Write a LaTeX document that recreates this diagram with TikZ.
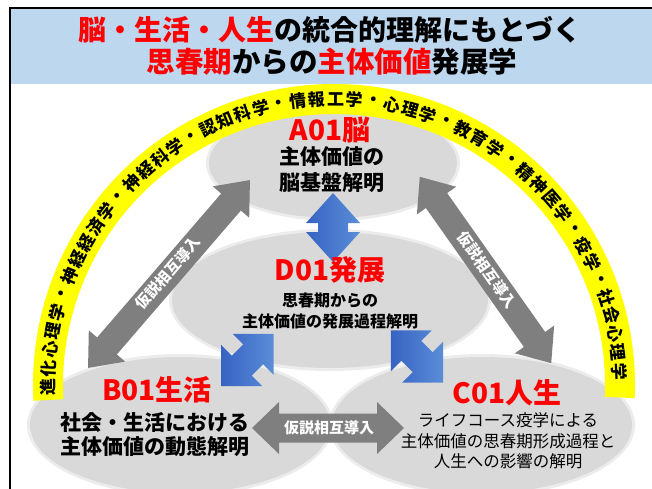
\documentclass[tikz,border=0pt]{standalone}
\usepackage{fontspec}
\setmainfont{Noto Sans CJK JP}
\usetikzlibrary{shapes.geometric}
\definecolor{titleblue}{HTML}{BDD7EE}
\definecolor{ellgray}{HTML}{D9D9D9}
\definecolor{arrgray}{HTML}{7F7F7F}
\definecolor{bluedark}{HTML}{3763C2}
\definecolor{bluelight}{HTML}{5B8DD8}
\definecolor{hlyellow}{HTML}{FFFF00}
\definecolor{labred}{HTML}{FF0000}
\newcommand\setfs[2]{\fontsize{#1}{#2}\selectfont}
\newcommand\dblarrow[8]{\begin{scope}[shift={(#1,#2)}, rotate=#3]
 \path[#8] (-#4,0) -- (-#4+#7,#6) -- (-#4+#7,#5) -- (#4-#7,#5) -- (#4-#7,#6) -- (#4,0)
   -- (#4-#7,-#6) -- (#4-#7,-#5) -- (-#4+#7,-#5) -- (-#4+#7,-#6) -- cycle;
\end{scope}}
\tikzset{
  ell/.style={ellipse, fill=ellgray, draw=none, inner sep=0pt},
  rim/.style={fill=ellgray!50},
  grayarr/.style={fill=arrgray},
  bluearr/.style={left color=bluedark, right color=bluelight},
  arrtext/.style={text=white, font=\setfs{15}{18}\bfseries, inner sep=0pt},
  redlab/.style={text=labred, font=\setfs{28}{32}\bfseries, inner sep=0pt},
  arctext/.style={font=\setfs{17}{20}\bfseries, inner sep=0pt},
}
\begin{document}
\begin{tikzpicture}[x=1pt,y=1pt]
\useasboundingbox (0,0) rectangle (652,-489);
\fill[white] (0,0) rectangle (652,-489);
% title band and frame
\fill[titleblue] (10,-8) rectangle (652,-84);
\draw[line width=1.6pt, black] (10,-489) -- (10,-8) -- (652,-8);
\node[font=\setfs{28}{32}\bfseries, inner sep=0pt] (t1) at (330,-30)
  {\textcolor{labred}{脳・生活・人生}の統合的理解にもとづく};
\node[font=\setfs{28.5}{32}\bfseries, inner sep=0pt] (t2) at (332,-62)
  {\textcolor{labred}{思春期}からの\textcolor{labred}{主体価値}発展学};
% ellipses (soft rim + body)
\fill[rim] (333,-163) ellipse[x radius=127, y radius=58];
\node[ell, minimum width=248, minimum height=110] (A) at (333,-163) {};
\fill[rim] (330,-300) ellipse[x radius=161, y radius=71];
\node[ell, minimum width=316, minimum height=136] (D) at (330,-300) {};
\fill[rim] (180,-425) ellipse[x radius=153, y radius=71];
\fill[rim] (482,-425) ellipse[x radius=153, y radius=71];
\node[ell, minimum width=300, minimum height=136] (B) at (180,-425) {};
\node[ell, minimum width=300, minimum height=136] (C) at (482,-425) {};
% yellow arc band
\coordinate (ac) at (334,-385);
\fill[hlyellow] (ac) ++(183:301) arc[start angle=183, end angle=-2.5, radius=301]
  -- ++(-2.5:-30) arc[start angle=-2.5, end angle=183, radius=271] -- cycle;
\foreach \ch [count=\i from 0] in {進,化,心,理,学,・,神,経,経,済,学,・,神,経,科,学,・,認,知,科,学,・,情,報,工,学,・,心,理,学,・,教,育,学,・,精,神,医,学,・,疫,学,・,社,会,心,理,学}{
  \pgfmathsetmacro\ang{180.4-\i*3.78}
  \path (ac) ++(\ang:286) node[arctext, rotate=\ang-90] (arc\i) {\ch};
}
% gray arrows
\dblarrow{169}{-274}{49.25}{124}{13}{24}{29}{grayarr}
\dblarrow{485.5}{-270}{-54.8}{114}{13}{24}{29}{grayarr}
\dblarrow{328}{-428}{0}{76}{14.5}{26}{27}{grayarr}
\node[arrtext, rotate=49.25] (g1) at (168,-273) {仮説相互導入};
\node[arrtext, rotate=-54.8] (g2) at (487,-270) {仮説相互導入};
\node[arrtext] (g3) at (329,-428) {仮説相互導入};
% blue arrows
\dblarrow{333}{-227.5}{90}{34.5}{15}{27}{30}{bluearr}
\dblarrow{247.5}{-360}{45}{37}{14}{29}{29}{bluearr}
\dblarrow{417}{-356.5}{-45}{37}{14}{29}{29}{bluearr}
% texts
\node[redlab] (Al) at (330,-130) {A01脳};
\node[font=\setfs{21}{26}\bfseries, align=center, inner sep=0pt] (At) at (332,-170) {主体価値の\\脳基盤解明};
\node[redlab] (Dl) at (330,-270) {D01発展};
\node[font=\setfs{16}{21}\bfseries, align=center, inner sep=0pt] (Dt) at (330,-310.5) {思春期からの\\主体価値の発展過程解明};
\node[redlab] (Bl) at (157,-390) {B01生活};
\node[font=\setfs{21}{24}\bfseries, align=center, inner sep=0pt] (Bt) at (155,-435) {社会・生活における\\主体価値の動態解明};
\node[redlab] (Cl) at (507,-393) {C01人生};
\node[font=\setfs{16.5}{20.5}, align=center, inner sep=0pt] (Ct) at (508,-441) {ライフコース疫学による\\主体価値の思春期形成過程と\\人生への影響の解明};
\end{tikzpicture}
\end{document}
